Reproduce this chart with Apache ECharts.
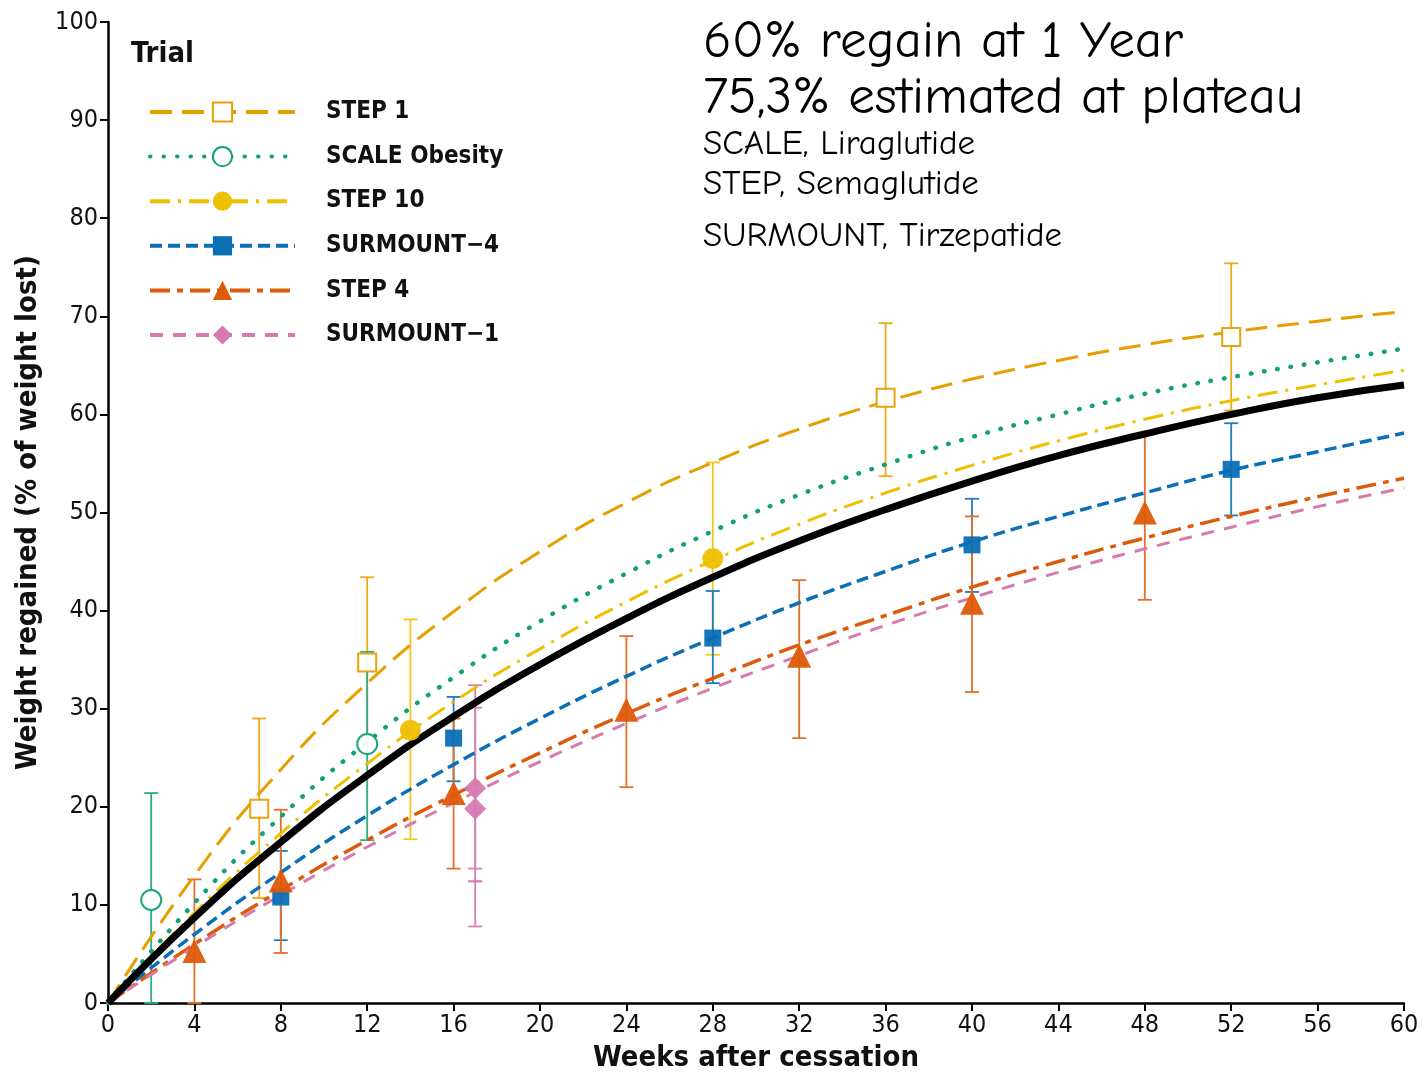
<!DOCTYPE html>
<html>
<head>
<meta charset="utf-8">
<script src="https://cdn.jsdelivr.net/npm/echarts@6/dist/echarts.min.js"></script>
<style>
html,body{margin:0;padding:0;background:#fff;}
#chart{width:1422px;height:1074px;}
</style>
</head>
<body>
<div id="chart"></div>
<script>
// ---- data ----
const weeks = [0,4,8,12,16,20,24,28,32,36,40,44,48,52,56,60];
const xTicks = [0,4,8,12,16,20,24,28,32,36,40,44,48,52,56,60];
const yTicks = [0,10,20,30,40,50,60,70,80,90,100];

const fitStep1     = [0,13.0,23.8,32.6,39.9,46.0,51.0,55.1,58.5,61.3,63.6,65.5,67.1,68.4,69.5,70.5];
const fitScale     = [0,10.2,19.0,26.6,33.2,38.9,43.8,48.1,51.8,54.9,57.7,60.0,62.1,63.8,65.3,66.7];
const fitStep10    = [0,9.2,17.3,24.4,30.7,36.1,40.9,45.1,48.8,52.0,54.8,57.3,59.5,61.4,63.0,64.5];
const fitSurmount4 = [0,7.0,13.3,19.1,24.3,29.0,33.3,37.2,40.8,44.0,47.0,49.6,52.0,54.3,56.2,58.1];
const fitStep4     = [0,6.0,11.5,16.6,21.2,25.5,29.5,33.1,36.5,39.5,42.4,45.0,47.4,49.6,51.6,53.5];
const fitSurmount1 = [0,5.7,11.0,15.9,20.4,24.6,28.5,32.1,35.4,38.5,41.3,43.9,46.3,48.5,50.6,52.5];
const fitOverall   = [0,8.7,16.4,23.2,29.2,34.5,39.2,43.4,47.1,50.3,53.2,55.8,58.0,60.0,61.7,63.0];

// observed points: [week, value]; error bars: [week, low, high]
const ptsStep1 = [[7,19.8],[12,34.7],[36,61.7],[52,67.9]];
const errStep1 = [[7,10.7,29.0],[12,26.1,43.4],[36,53.7,69.3],[52,60.4,75.4]];
const ptsScale = [[2,10.5],[12,26.4]];
const errScale = [[2,0,21.4],[12,16.6,35.8]];
const ptsStep10 = [[14,27.8],[28,45.3]];
const errStep10 = [[14,16.7,39.1],[28,35.5,55.1]];
const ptsSurmount4 = [[8,10.8],[16,27.0],[28,37.2],[40,46.7],[52,54.4]];
const errSurmount4 = [[8,6.4,15.5],[16,22.6,31.2],[28,32.6,42.0],[40,41.9,51.4],[52,49.7,59.1]];
const ptsStep4 = [[4,5.3],[8,12.5],[16,21.4],[24,29.9],[32,35.4],[40,40.8],[48,50.0]];
const errStep4 = [[4,0,12.6],[8,5.1,19.7],[16,13.7,29.0],[24,22.0,37.4],[32,27.0,43.1],[40,31.7,49.6],[48,41.1,58.1]];
const ptsSurmount1 = [[17,21.9],[17,19.8]];
const errSurmount1 = [[17,13.7,30.1],[17,7.8,32.4],[17,12.4,12.4]];

const names = ['STEP 1','SCALE Obesity','STEP 10','SURMOUNT\u22124','STEP 4','SURMOUNT\u22121'];
const colors = ['#E69F00','#12A07A','#EEC000','#0A6FB5','#DD5A0A','#D77AB0'];
const errColors = ['#F0A818','#2AAE86','#F2C81A','#1D7CC0','#E0702A','#D97FB4'];

const annotLines = ['60% regain at 1 Year','75,3% estimated at plateau','SCALE, Liraglutide','STEP, Semaglutide','SURMOUNT, Tirzepatide'];

// ---- chart ----
const chart = echarts.init(document.getElementById('chart'), null, {renderer:'canvas'});
const FONT = "'DejaVu Sans Condensed','Liberation Sans Narrow','Liberation Sans',Arial,sans-serif";
const ANNOT = "'Comic Sans MS','Comic Neue','DejaVu Sans',sans-serif";

function pair(xs, ys){ return xs.map((x,i)=>[x, ys[i]]); }

function errSeries(data, color){
  return {
    type:'custom', z:1, silent:true,
    data: data,
    renderItem: function(params, api){
      const x = api.value(0), lo = api.value(1), hi = api.value(2);
      const a = api.coord([x, lo]), b = api.coord([x, hi]);
      const w = 7;
      const st = {stroke:color, lineWidth:1.8};
      return {type:'group', children:[
        {type:'line', shape:{x1:a[0],y1:a[1],x2:b[0],y2:b[1]}, style:st},
        {type:'line', shape:{x1:a[0]-w,y1:a[1],x2:a[0]+w,y2:a[1]}, style:st},
        {type:'line', shape:{x1:b[0]-w,y1:b[1],x2:b[0]+w,y2:b[1]}, style:st}
      ]};
    }
  };
}

const fits = [fitStep1, fitScale, fitStep10, fitSurmount4, fitStep4, fitSurmount1];
const dashes = [[22,10],[0.5,13],[20,8,3,8],[12,6],[20,7,6,7],[13,10]];
const widths = [3,4.5,3,3.5,3.5,3];
const caps = ['butt','round','butt','butt','butt','butt'];
const symbols = ['emptyRect','emptyCircle','circle','rect','triangle','diamond'];
const symSizes = [18,20,21,17,24,22];
const pts = [ptsStep1, ptsScale, ptsStep10, ptsSurmount4, ptsStep4, ptsSurmount1];
const errs = [errStep1, errScale, errStep10, errSurmount4, errStep4, errSurmount1];

const series = [];
for(let i=0;i<6;i++){
  series.push(errSeries(errs[i], errColors[i]));
}
for(let i=0;i<6;i++){
  series.push({
    name: names[i], type:'line', smooth:true, z:2,
    data: pair(weeks, fits[i]),
    showSymbol:false, symbol: symbols[i], symbolSize: symSizes[i],
    itemStyle:{color:colors[i], borderWidth:2.5},
    lineStyle:{color:colors[i], width:widths[i], type:dashes[i], cap:caps[i]},
    emphasis:{disabled:true}
  });
}
series.push({
  name:'Overall', type:'line', smooth:true, z:3,
  data: pair(weeks, fitOverall), showSymbol:false, symbol:'none',
  lineStyle:{color:'#000', width:7}, emphasis:{disabled:true}
});
for(let i=0;i<6;i++){
  const empty = symbols[i].startsWith('empty');
  series.push({
    name: names[i]+' observed', type:'scatter', z:4,
    data: pts[i], symbol: symbols[i], symbolSize: symSizes[i],
    itemStyle:{color: colors[i], borderColor: colors[i], borderWidth: empty ? 2.5 : 0, opacity:0.95},
    emphasis:{disabled:true}
  });
}

const graphics = [
  {type:'text', left:131, top:40, style:{text:'Trial', font:"bold 29px "+FONT, fill:'#111'}},
  {type:'text', left:703, top:16, style:{text:annotLines[0], font:"53px "+ANNOT, fill:'#000'}},
  {type:'text', left:703, top:72, style:{text:annotLines[1], font:"53px "+ANNOT, fill:'#000'}},
  {type:'text', left:703, top:127, style:{text:annotLines[2], font:"35px "+ANNOT, fill:'#000'}},
  {type:'text', left:703, top:167, style:{text:annotLines[3], font:"35px "+ANNOT, fill:'#000'}},
  {type:'text', left:703, top:219, style:{text:annotLines[4], font:"35px "+ANNOT, fill:'#000'}}
];

chart.setOption({
  backgroundColor:'#fff',
  animation:false,
  grid:{left:108, right:18, top:22, bottom:71, containLabel:false, outerBoundsMode:'none'},
  legend:{
    data: names, orient:'vertical', left:148, top:100, padding:0,
    itemWidth:145, itemHeight:24, itemGap:20.6,
    lineStyle:{width:4},
    textStyle:{fontFamily:FONT, fontWeight:'bold', fontSize:24, color:'#111', padding:[0,0,0,26]},
    selectedMode:false
  },
  xAxis:{
    type:'value', min:0, max:60, interval:4,
    name:'Weeks after cessation', nameLocation:'middle', nameGap:41,
    nameTextStyle:{fontFamily:FONT, fontWeight:'bold', fontSize:29, color:'#111'},
    axisLine:{show:true, onZero:false, lineStyle:{color:'#000', width:2.5}},
    axisTick:{show:true, length:8, lineStyle:{color:'#000', width:2}},
    axisLabel:{fontFamily:FONT, fontSize:25, color:'#111', margin:10,
      formatter: v => xTicks.includes(v) ? String(v) : ''},
    splitLine:{show:false}
  },
  yAxis:{
    type:'value', min:0, max:100, interval:10,
    name:'Weight regained (% of weight lost)', nameLocation:'middle', nameGap:65,
    nameTextStyle:{fontFamily:FONT, fontWeight:'bold', fontSize:29, color:'#111'},
    axisLine:{show:true, onZero:false, lineStyle:{color:'#000', width:2.5}},
    axisTick:{show:true, length:8, lineStyle:{color:'#000', width:2}},
    axisLabel:{fontFamily:FONT, fontSize:25, color:'#111', margin:10,
      formatter: v => yTicks.includes(v) ? String(v) : ''},
    splitLine:{show:false}
  },
  graphic: graphics,
  series: series
});
</script>
</body>
</html>
